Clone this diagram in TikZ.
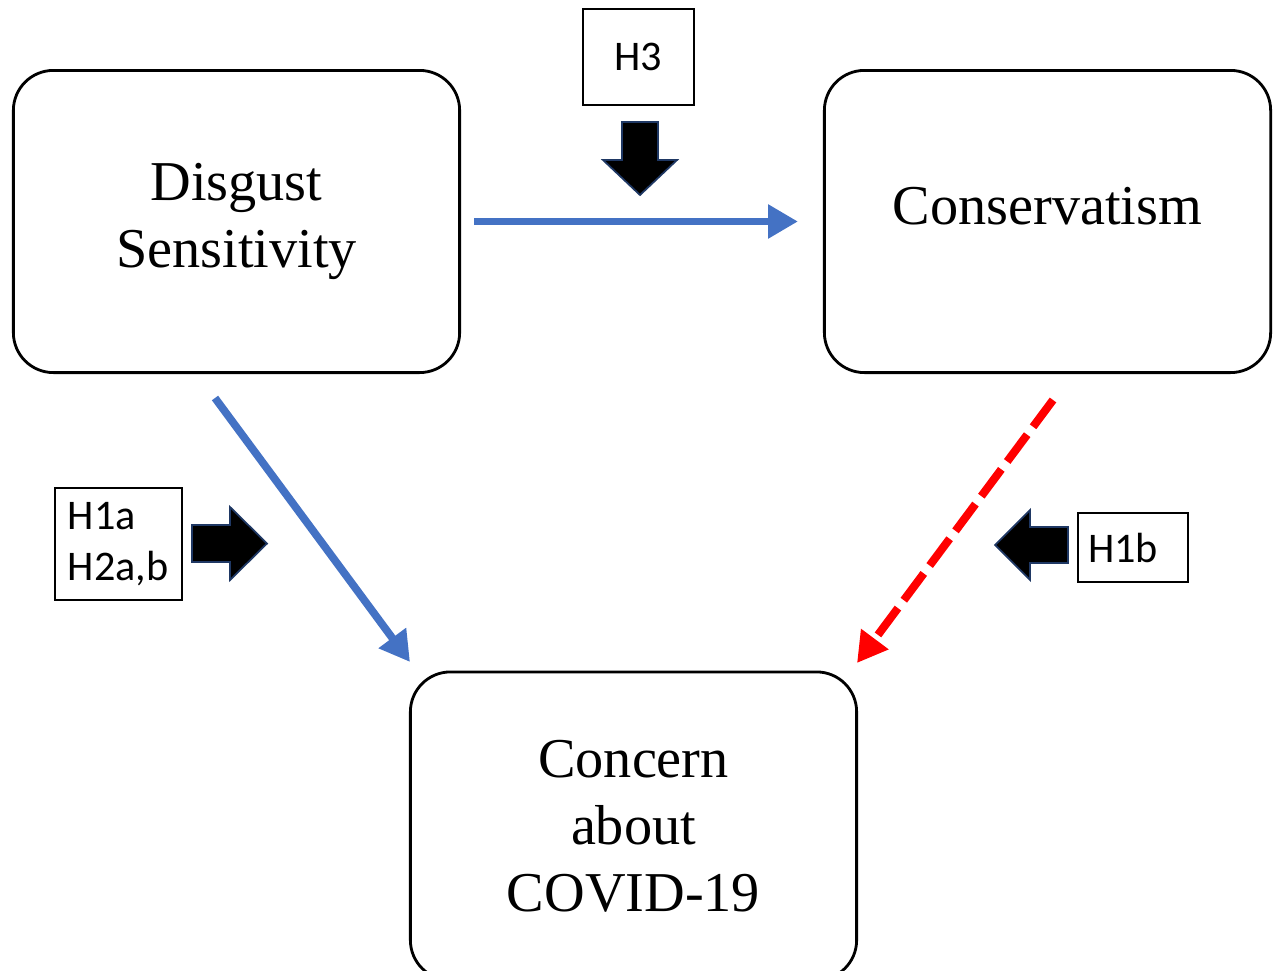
\documentclass[tikz,border=0pt]{standalone}
\usepackage{fontspec}
\setmainfont{Liberation Serif}
\newfontfamily\hypfont{Carlito}
\usetikzlibrary{arrows.meta, positioning}
\definecolor{pathblue}{RGB}{68,114,196}
\definecolor{pathred}{RGB}{255,0,0}
\definecolor{arrowrim}{RGB}{31,56,100}

\begin{document}
\begin{tikzpicture}[x=0.01cm, y=-0.01cm,
  construct/.style={draw, line width=0.8pt, rounded corners=0.4cm, minimum width=4.46cm, minimum height=3.02cm, align=center, font=\fontsize{16}{19}\selectfont},
  hyp/.style={draw, line width=0.6pt, font=\hypfont\fontsize{12}{14.3}\selectfont},
  blockarrow/.style={fill=black, draw=arrowrim, line width=0.5pt, line join=miter},
  bluepath/.style={draw=pathblue, line width=2.2pt, -{Triangle[length=8.5pt, width=9.2pt]}},
  redpath/.style={draw=pathred, line width=2.3pt, dash pattern=on 9.5pt off 2.8pt, -{Triangle[length=8.5pt, width=9.2pt]}}]
\useasboundingbox (0,0) rectangle (1274,970);
\clip (0,0) rectangle (1274,970);
\node[construct] (disgust) at (236.5, 221.5) {Disgust\\Sensitivity};
\node[construct, text depth=0.31cm] (conserv) at (1047.5, 221.5) {Conservatism};
\node[construct, minimum height=3.08cm] (concern) at (633.5, 826) {Concern\\about\\COVID-19};
\node[hyp, minimum width=1.11cm, minimum height=0.96cm] (h3) at (638.5, 57) {H3};
\node[hyp, text width=1.01cm, inner xsep=0.13cm, minimum height=1.12cm, align=left] (h1a) at (118.5, 544) {H1a\\H2a,b};
\node[hyp, text width=0.9cm, inner xsep=0.1cm, minimum height=0.69cm, align=left] (h1b) at (1133, 547.5) {H1b};
\filldraw[blockarrow] (622,122) -- (658,122) -- (658,160) -- (677,160) -- (640,195) -- (603,160) -- (622,160) -- cycle;
\filldraw[blockarrow] (192,525) -- (230,525) -- (230,507) -- (267,543.5) -- (230,580) -- (230,562) -- (192,562) -- cycle;
\filldraw[blockarrow] (1068,527) -- (1030,527) -- (1030,510) -- (995,545) -- (1030,580) -- (1030,563) -- (1068,563) -- cycle;
\coordinate (dsout) at (215,398);
\coordinate (ccleft) at (410,662);
\coordinate (cvout) at (1053,400);
\coordinate (ccright) at (857,663);
\draw[bluepath] ([xshift=0.13cm]disgust.east) -- ([xshift=-0.25cm]conserv.west);
\draw[bluepath] (dsout) -- (ccleft);
\draw[redpath] (cvout) -- (ccright);
\end{tikzpicture}
\end{document}
